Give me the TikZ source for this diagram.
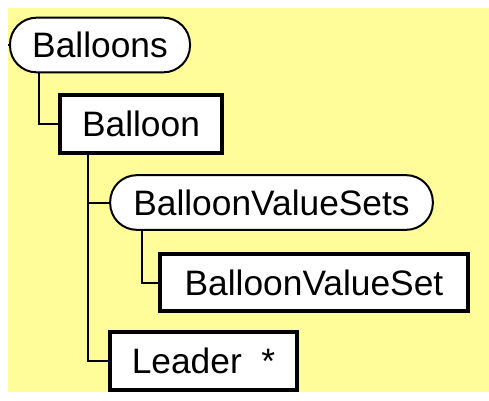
\documentclass[tikz,border=0pt]{standalone}
\usepackage{fontspec}
\setmainfont{Liberation Sans}
\usetikzlibrary{positioning}

\definecolor{paleyellow}{RGB}{255,253,153}

\begin{document}
\begin{tikzpicture}[x=0.75pt,y=-0.75pt,
    elem/.style={draw=black,fill=white,line width=3pt,inner sep=0pt,
      minimum height=43pt,font=\fontsize{26.5}{30}\selectfont},
    group/.style={draw=black,fill=white,line width=1.5pt,inner sep=0pt,
      rounded corners=20pt,minimum height=41pt,font=\fontsize{26.5}{30}\selectfont},
    conn/.style={draw=black,line width=1.5pt}]
\useasboundingbox (0,0) rectangle (489,400);
\fill[white] (0,0) rectangle (489,400);
\fill[paleyellow] (8,8) rectangle (489,392);

\node[group,minimum width=135pt] (Balloons) at (100,45) {Balloons};
\node[elem,minimum width=121.5pt] (Balloon) at (141,124) {Balloon};
\node[group,minimum width=242pt] (ValueSets) at (271.5,202.5) {BalloonValueSets};
\node[elem,minimum width=231pt] (ValueSet) at (314,282.5) {BalloonValueSet};
\node[elem,minimum width=140pt] (Leader) at (203.5,361) {Leader\ \ *};

% tree lines
\coordinate (root) at (8,45);
\draw[conn] (root) -- (Balloons.west);
\draw[conn] ([xshift=22.5pt]Balloons.south west) |- (Balloon.west);
\draw[conn] ([xshift=22.5pt]Balloon.south west) |- (ValueSets.west);
\draw[conn] ([xshift=22.5pt]Balloon.south west) |- (Leader.west);
\draw[conn] ([xshift=24.75pt]ValueSets.south west) |- (ValueSet.west);
\end{tikzpicture}
\end{document}
